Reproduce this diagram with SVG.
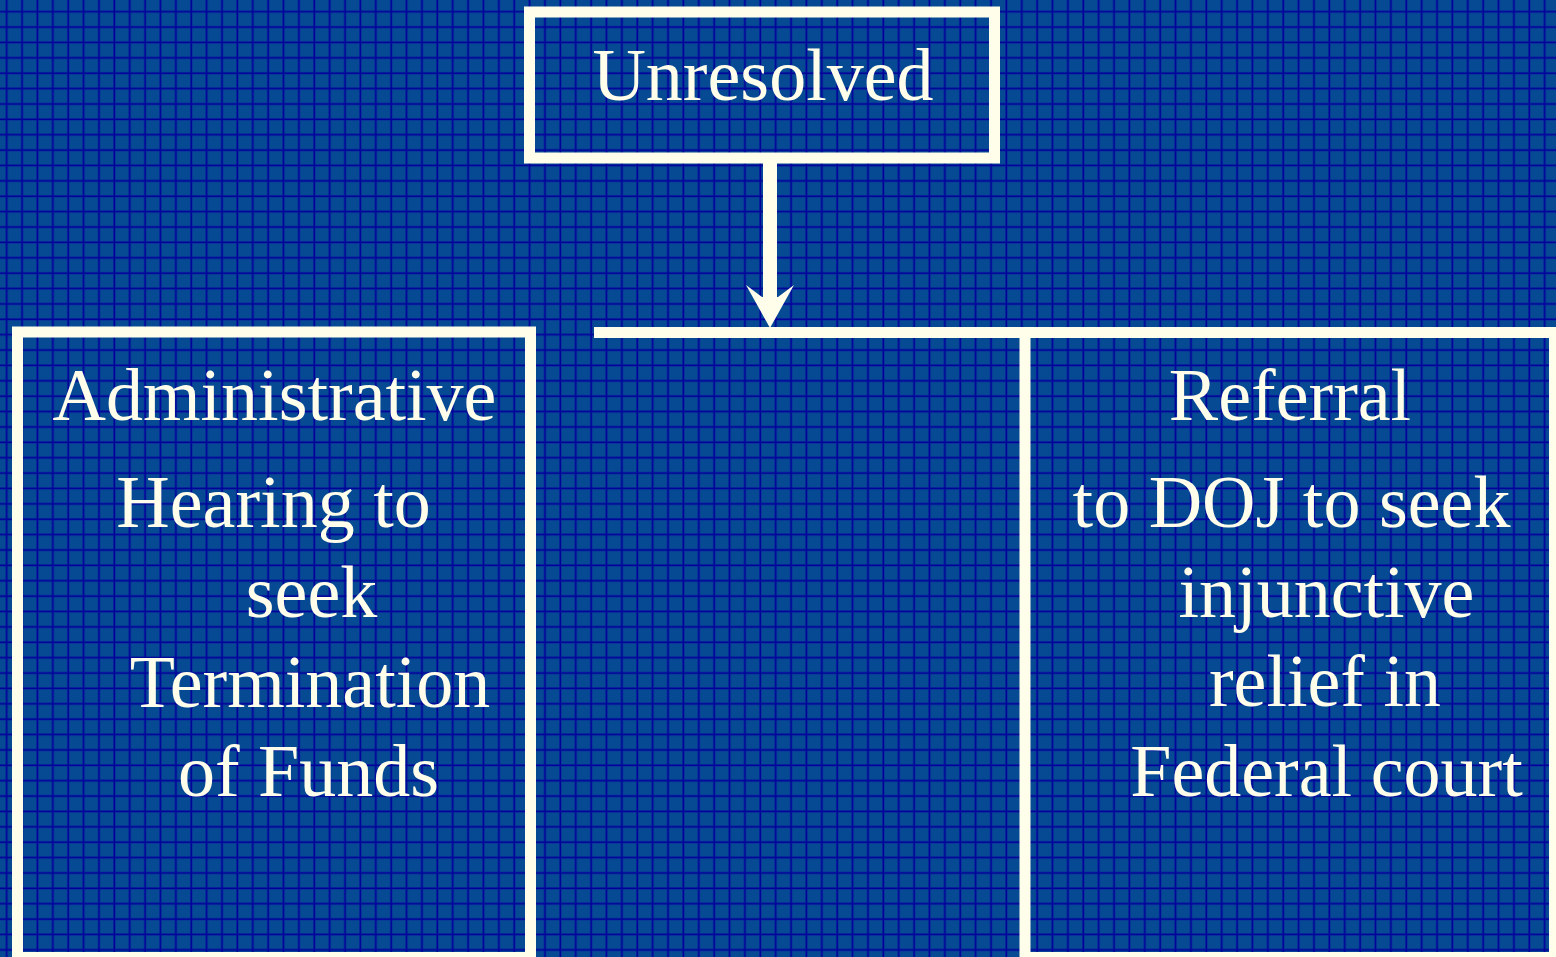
<svg xmlns="http://www.w3.org/2000/svg" width="1556" height="957" viewBox="0 0 1556 957">
  <defs>
    <pattern id="grid" x="5.4" y="10.4" width="15.38" height="15.38" patternUnits="userSpaceOnUse">
      <rect x="0" y="0" width="15.38" height="15.38" fill="#054a93"/>
      <rect x="0" y="0" width="2.6" height="15.38" fill="#0a339c"/>
      <rect x="0" y="0" width="15.38" height="2.6" fill="#0a339c"/>
      <rect x="0.6" y="0" width="1.4" height="15.38" fill="#000099"/>
      <rect x="0" y="0.6" width="15.38" height="1.4" fill="#000099"/>
    </pattern>
    <style>
      .box { fill: none; stroke: #fffeea; stroke-width: 11; }
      .conn { stroke: #fffeea; fill: none; }
      .head { fill: #fffeea; }
      .t { font-family: "Liberation Serif", "Times New Roman", serif; font-size: 74px; fill: #fffeea; text-anchor: middle; }
    </style>
  </defs>
  <rect x="0" y="0" width="1556" height="957" fill="url(#grid)"/>

  <g id="connectors">
    <line class="conn" x1="770" y1="163" x2="770" y2="300" stroke-width="14"/>
    <polygon class="head" points="746,285 770,328 794,285 778,297 762,297"/>
    <line class="conn" x1="594" y1="332.5" x2="1030" y2="332.5" stroke-width="11"/>
  </g>

  <g id="node-unresolved">
    <rect class="box" x="529.5" y="12" width="465" height="146"/>
    <text class="t" x="763" y="100">Unresolved</text>
  </g>

  <g id="node-administrative">
    <rect class="box" x="17.5" y="332" width="513" height="625.5"/>
    <text class="t" x="274.5" y="420">Administrative</text>
    <text class="t" x="273.5" y="527">Hearing to</text>
    <text class="t" x="311.5" y="617">seek</text>
    <text class="t" x="310" y="707">Termination</text>
    <text class="t" x="308.5" y="796">of Funds</text>
  </g>

  <g id="node-referral">
    <rect class="box" x="1025" y="332.5" width="529.5" height="625"/>
    <text class="t" x="1290" y="420">Referral</text>
    <text class="t" x="1291.5" y="527">to DOJ to seek</text>
    <text class="t" x="1326.5" y="617">injunctive</text>
    <text class="t" x="1325" y="706">relief in</text>
    <text class="t" x="1326.5" y="796">Federal court</text>
  </g>
</svg>
